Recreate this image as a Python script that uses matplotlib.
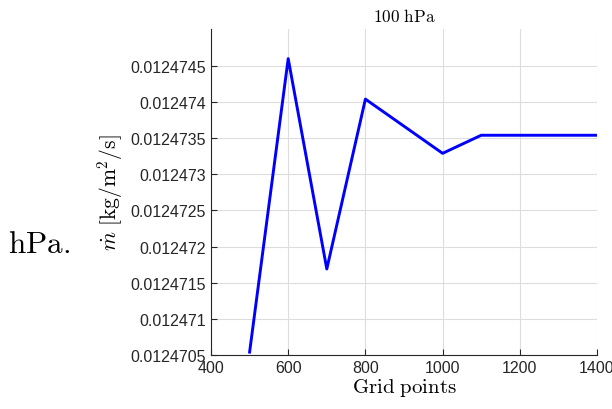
import numpy as np
import matplotlib
matplotlib.use("Agg")
import matplotlib.pyplot as plt

plt.rcParams['mathtext.fontset'] = 'cm'
plt.rcParams['font.family'] = ['Liberation Sans', 'DejaVu Sans']

# mass flux against grid resolution at 100 hPa
grid_points = [500, 600, 700, 800, 1000, 1100, 1200, 1300, 1400]
mdot = [0.01247054, 0.0124746, 0.01247169, 0.01247404, 0.01247329,
        0.01247354, 0.01247354, 0.01247354, 0.01247354]

y_ticks = [0.0124705, 0.012471, 0.0124715, 0.012472, 0.0124725,
           0.012473, 0.0124735, 0.012474, 0.0124745]
y_tick_labels = ['0.0124705', '0.012471', '0.0124715', '0.012472', '0.0124725',
                 '0.012473', '0.0124735', '0.012474', '0.0124745']
x_ticks = [400, 600, 800, 1000, 1200, 1400]

fig = plt.figure(figsize=(6.12, 4.10), dpi=100)
ax = fig.add_axes([211/612, 1 - 356/410, 386/612, 326/410])

ax.plot(grid_points, mdot, color=(0, 0, 1), linewidth=2.1)

ax.set_xlim(400, 1400)
ax.set_ylim(0.0124705, 0.01247501)
ax.set_xticks(x_ticks)
ax.set_yticks(y_ticks)
ax.set_yticklabels(y_tick_labels)
ax.tick_params(direction='in', labelsize=11.5, colors='#262626', length=4, width=0.8)
ax.grid(True, color='#dddddd', linewidth=0.8)
ax.set_axisbelow(True)
for s in ['top', 'right']:
    ax.spines[s].set_visible(False)
for s in ['left', 'bottom']:
    ax.spines[s].set_color('#262626')
    ax.spines[s].set_linewidth(0.8)

ax.set_title(r'$\mathrm{100\ hPa}$', fontsize=12.4, pad=6)
ax.set_xlabel(r'$\mathrm{Grid\ points}$', fontsize=15, labelpad=1)
ax.set_ylabel(r'$\dot{m}\ [\mathrm{kg/m^2/s}]$', fontsize=15.5, labelpad=4)

fig.text(8/612, 1 - 245/410, r'$\mathrm{hPa.}$', fontsize=22.5, va='center', ha='left')

fig.savefig('out.png', dpi=100)
